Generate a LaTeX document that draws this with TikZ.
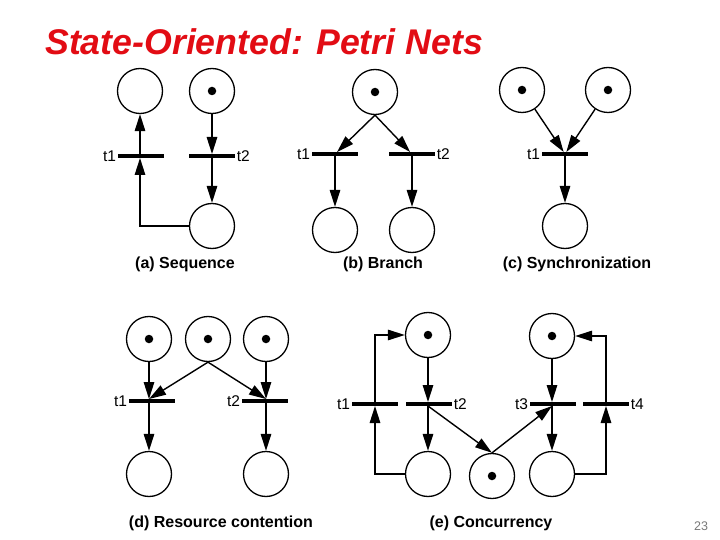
\documentclass[tikz,border=0pt]{standalone}
\usepackage{fontspec}
\setmainfont{Liberation Sans}
\usetikzlibrary{arrows.meta}
\definecolor{titlered}{RGB}{226,12,20}
\definecolor{pagegray}{RGB}{120,120,120}
\begin{document}
\begin{tikzpicture}[x=1pt,y=-1pt,
  place/.style={circle,draw,line width=1.3pt,minimum size=45pt,inner sep=0pt},
  token/.style={circle,fill,minimum size=8.5pt,inner sep=0pt},
  bar/.style={rectangle,fill,minimum width=46pt,minimum height=3.6pt,inner sep=0pt},
  tlab/.style={font=\fontsize{15.5}{18}\selectfont,inner sep=1.5pt},
  capt/.style={font=\fontsize{16}{19}\selectfont\bfseries},
  arc/.style={line width=1.4pt,-{Triangle[length=17pt,width=10.5pt]}}]
\useasboundingbox (0,0) rectangle (720,540);

% title
\node[anchor=base west,inner sep=0pt,text=titlered,font=\fontsize{35.7}{40}\selectfont\bfseries\itshape] (title) at (45,55) {State-Oriented: Petri Nets};

% ---------- (a) Sequence ----------
\node[place] (a1) at (140,91) {};
\node[place] (a2) at (212,91) {};
\node[token] (a2t) at (a2) {};
\node[place] (a3) at (212,226) {};
\node[bar] (at1) at (141,156) {};
\node[bar] (at2) at (212,156) {};
\node[tlab,anchor=east] (at1l) at (at1.west) {t1};
\node[tlab,anchor=west] (at2l) at (at2.east) {t2};
\draw[arc] (a3.west) -| (a1|-at1.south);
\draw[arc] (a1|-at1.north) -- (a1);
\draw[arc] (a2) -- (at2);
\draw[arc] (at2) -- (a3);
\node[capt] (capa) at (185,264) {(a) Sequence};

% ---------- (b) Branch ----------
\node[place] (b1) at (375,92) {};
\node[token] (b1t) at (b1) {};
\node[bar] (bt1) at (335,154) {};
\node[bar] (bt2) at (412,154) {};
\node[tlab,anchor=east] (bt1l) at (bt1.west) {t1};
\node[tlab,anchor=west] (bt2l) at (bt2.east) {t2};
\node[place] (b2) at (335,230) {};
\node[place] (b3) at (412,230) {};
\draw[arc] (b1.south) -- (bt1);
\draw[arc] (b1.south) -- (bt2);
\draw[arc] (bt1) -- (b2);
\draw[arc] (bt2) -- (b3);
\node[capt] (capb) at (383,264) {(b) Branch};

% ---------- (c) Synchronization ----------
\node[place] (c1) at (522,90) {};
\node[token] (c1t) at (c1) {};
\node[place] (c2) at (608,90) {};
\node[token] (c2t) at (c2) {};
\node[bar] (ct1) at (565,154) {};
\node[tlab,anchor=east] (ct1l) at (ct1.west) {t1};
\node[place] (c3) at (565,226) {};
\draw[arc] (c1) -- (ct1);
\draw[arc] (c2) -- (ct1);
\draw[arc] (ct1) -- (c3);
\node[capt] (capc) at (577,264) {(c) Synchronization};

% ---------- (d) Resource contention ----------
\node[place] (d1) at (149,339) {};
\node[token] (d1t) at (d1) {};
\node[place] (d2) at (208,339) {};
\node[token] (d2t) at (d2) {};
\node[place] (d3) at (266,339) {};
\node[token] (d3t) at (d3) {};
\node[bar] (dt1) at (152,401) {};
\node[bar] (dt2) at (265,401) {};
\node[tlab,anchor=east] (dt1l) at (dt1.west) {t1};
\node[tlab,anchor=east] (dt2l) at (dt2.west) {t2};
\node[place] (d4) at (149,474) {};
\node[place] (d5) at (266,474) {};
\draw[arc] (d1) -- (d1|-dt1.north);
\draw[arc] (d2.south) -- (d1|-dt1.north);
\draw[arc] (d2.south) -- (d3|-dt2.north);
\draw[arc] (d3) -- (d3|-dt2.north);
\draw[arc] (d1|-dt1.south) -- (d4);
\draw[arc] (d3|-dt2.south) -- (d5);
\node[capt] (capd) at (221,523) {(d) Resource contention};

% ---------- (e) Concurrency ----------
\node[place] (e1) at (428,335) {};
\node[token] (e1t) at (e1) {};
\node[place] (e2) at (552,336) {};
\node[token] (e2t) at (e2) {};
\node[bar] (et1) at (375,404) {};
\node[bar] (et2) at (429,404) {};
\node[bar] (et3) at (553,404) {};
\node[bar] (et4) at (606,404) {};
\node[tlab,anchor=east] (et1l) at (et1.west) {t1};
\node[tlab,anchor=west] (et2l) at (et2.east) {t2};
\node[tlab,anchor=east] (et3l) at (et3.west) {t3};
\node[tlab,anchor=west] (et4l) at (et4.east) {t4};
\node[place] (e3) at (428,474) {};
\node[place] (e4) at (492,476) {};
\node[token] (e4t) at (e4) {};
\node[place] (e5) at (552,474) {};
\draw[arc] (e3.west) -| (et1);
\draw[arc] (et1) |- (e1.west);
\draw[arc] (e1) -- (e1|-et2.north);
\draw[arc] (e1|-et2.south) -- (e3);
\draw[arc] (e1|-et2.south) -- (e4.north);
\draw[arc] (e4.north) -- (e2|-et3.south);
\draw[arc] (e2) -- (e2|-et3.north);
\draw[arc] (e2|-et3.south) -- (e5);
\draw[arc] (e5.east) -| (et4);
\draw[arc] (et4) |- (e2.east);
\node[capt] (cape) at (491,523) {(e) Concurrency};

% page number
\node[text=pagegray,font=\fontsize{12.5}{14}\selectfont] (pg) at (701,526) {23};
\end{tikzpicture}
\end{document}
